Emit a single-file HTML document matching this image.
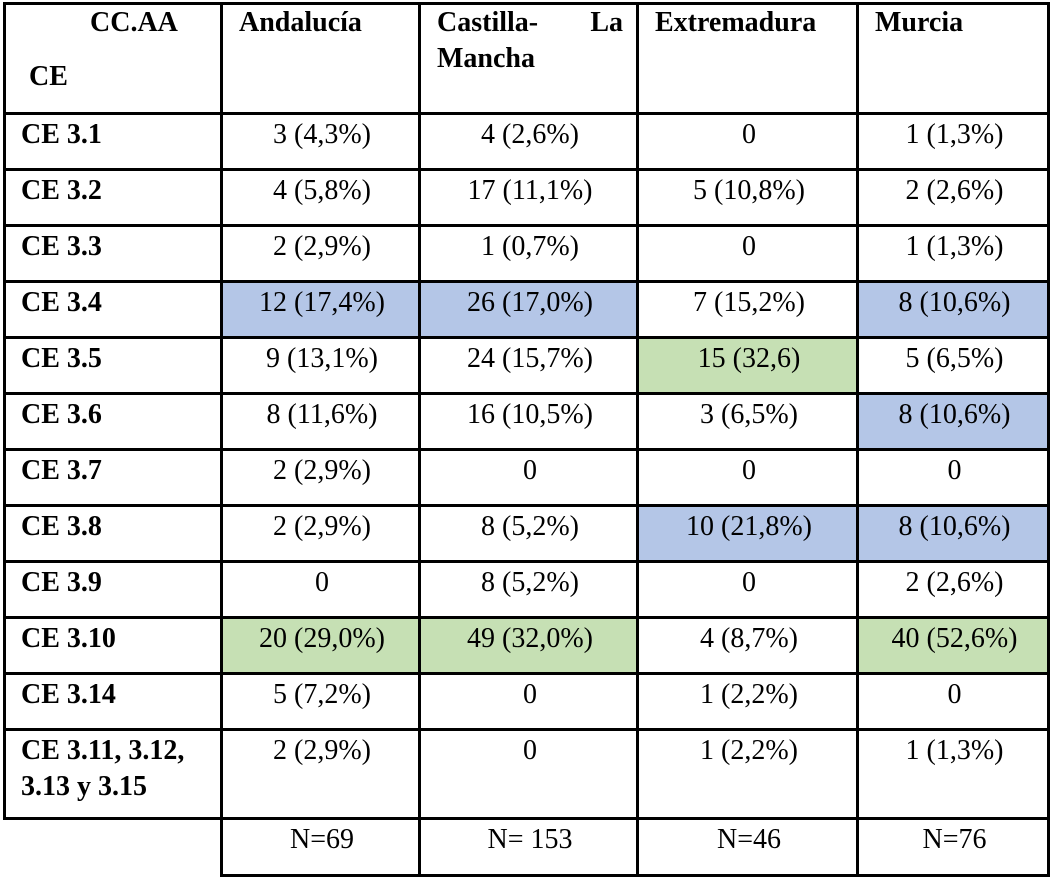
<!DOCTYPE html>
<html><head><meta charset="utf-8">
<style>
body{margin:0;width:1055px;height:877px;background:#fff;position:relative;overflow:hidden;font-family:"Liberation Serif","Times New Roman",serif;color:#000}
.c{position:absolute;box-sizing:border-box;font-size:28px;line-height:36px;padding-top:4px}
.h{font-weight:bold}
.l{position:absolute;background:#000}
</style></head><body>
<script>
const cols=[4,221,419,637,857,1048];
const rows=[3,113,169,225,281,337,393,449,505,561,617,673,729,818,875];
const headers=["Andalucía","Castilla- La Mancha","Extremadura","Murcia"];
const labels=["CE 3.1","CE 3.2","CE 3.3","CE 3.4","CE 3.5","CE 3.6","CE 3.7","CE 3.8","CE 3.9","CE 3.10","CE 3.14","CE 3.11, 3.12, 3.13 y 3.15"];
const values=[
["3 (4,3%)","4 (2,6%)","0","1 (1,3%)"],
["4 (5,8%)","17 (11,1%)","5 (10,8%)","2 (2,6%)"],
["2 (2,9%)","1 (0,7%)","0","1 (1,3%)"],
["12 (17,4%)","26 (17,0%)","7 (15,2%)","8 (10,6%)"],
["9 (13,1%)","24 (15,7%)","15 (32,6)","5 (6,5%)"],
["8 (11,6%)","16 (10,5%)","3 (6,5%)","8 (10,6%)"],
["2 (2,9%)","0","0","0"],
["2 (2,9%)","8 (5,2%)","10 (21,8%)","8 (10,6%)"],
["0","8 (5,2%)","0","2 (2,6%)"],
["20 (29,0%)","49 (32,0%)","4 (8,7%)","40 (52,6%)"],
["5 (7,2%)","0","1 (2,2%)","0"],
["2 (2,9%)","0","1 (2,2%)","1 (1,3%)"]];
const shade=[
["","","",""],["","","",""],["","","",""],
["b","b","","b"],["","","g",""],["","","","b"],["","","",""],
["","","b","b"],["","","",""],["g","g","","g"],["","","",""],["","","",""]];
const totals=["N=69","N= 153","N=46","N=76"];
const colors={b:"#b4c6e7",g:"#c6e0b4"};
function cell(x0,x1,y0,y1,txt,cls,align,bg){
  const d=document.createElement('div');
  d.className='c '+cls;
  d.style.left=x0+'px';d.style.top=y0+'px';d.style.width=(x1-x0)+'px';d.style.height=(y1-y0)+'px';
  d.style.textAlign=align;
  if(bg)d.style.background=bg;
  d.style.paddingLeft='18px';d.style.paddingRight='14px';
  d.textContent=txt;
  document.body.appendChild(d);
  return d;
}
let h0=cell(cols[0],cols[1],rows[0],rows[1],"","h","left");
h0.innerHTML='<div style="padding-left:68px;margin-top:-2px">CC.AA</div><div style="padding-left:7px;margin-top:18px">CE</div>';


for(let j=0;j<4;j++){
  const d=cell(cols[j+1],cols[j+2],rows[0],rows[1],headers[j],"h","left");
  if(j==1){d.innerHTML='<div style="display:flex;justify-content:space-between"><span>Castilla-</span><span>La</span></div><div>Mancha</div>';}
  d.style.marginTop='-2px';
  
  
}
for(let i=0;i<labels.length;i++){
  const l=cell(cols[0],cols[1],rows[i+1],rows[i+2],labels[i],"h","left");
  l.style.paddingLeft='17px';
  
  
  for(let j=0;j<4;j++){
    const d=cell(cols[j+1],cols[j+2],rows[i+1],rows[i+2],values[i][j],"","center",colors[shade[i][j]]);
    
    
  }
}
for(let j=0;j<4;j++){
  const d=cell(cols[j+1],cols[j+2],rows[13],rows[14],totals[j],"","center");
  
  
}
function line(x,y,w,h){
  const d=document.createElement('div');d.className='l';
  d.style.left=x+'px';d.style.top=y+'px';d.style.width=w+'px';d.style.height=h+'px';
  
  
  document.body.appendChild(d);
}
for(let i=0;i<rows.length;i++){
  const x0=(i>=14)?cols[1]:cols[0];
  line(x0-1,rows[i]-1,cols[5]-x0+3,3);
}
for(let j=0;j<cols.length;j++){
  const y1=(j==0)?rows[13]:rows[14];
  line(cols[j]-1,rows[0]-1,3,y1-rows[0]+3);
}
</script>
</body></html>
